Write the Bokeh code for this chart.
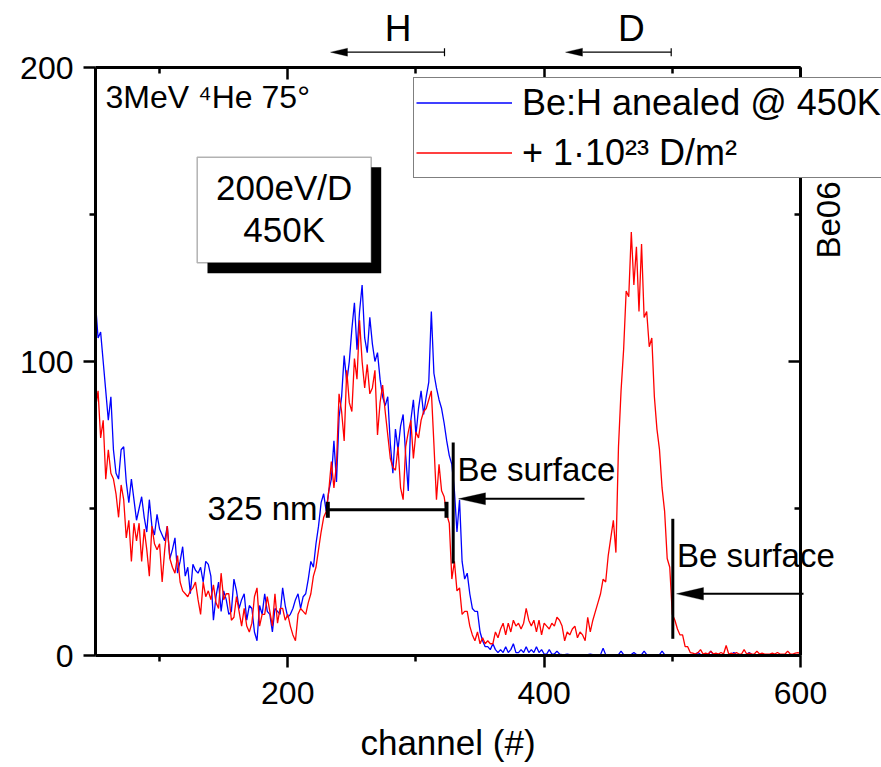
from bokeh.plotting import figure
from bokeh.models import (Range1d, LinearAxis, FixedTicker, Label, Arrow, TeeHead,
                          BoxAnnotation, PolyAnnotation, Legend, LegendItem,
                          ColumnDataSource, CustomJSTickFormatter)
from bokeh.embed import file_html
from bokeh.resources import INLINE

# ---------------- data ----------------
channel = list(range(50, 601, 2))

blue_counts = [
    120, 108, 110, 100, 90, 80, 88, 70, 62, 60,          # 50-68
    70, 71, 59, 52, 60, 53, 46, 50, 54, 47,              # 70-88
    42, 53, 44, 41, 48, 43, 41, 39, 44, 33,              # 90-108
    36, 40, 28, 32, 37, 27, 30, 21, 31, 29,              # 110-128
    28, 30, 25, 32, 31, 27, 12, 20, 25, 15,              # 130-148
    22, 19, 14, 15, 26, 22, 16, 19, 21, 12,              # 150-168
    17, 16, 8, 5, 17, 14, 21, 15, 14, 8,                 # 170-188
    16, 15, 14, 23, 17, 13, 14, 16, 19, 21,              # 190-208
    16, 20, 21, 26, 32, 30, 38, 44, 52, 55,              # 210-228
    49, 56, 60, 73, 59, 81, 88, 102, 93, 100,            # 230-248
    111, 120, 104, 117, 126, 108, 103, 115, 106, 100,    # 250-268
    103, 94, 88, 85, 88, 72, 62, 77, 70, 78,             # 270-288
    82, 68, 56, 80, 87, 75, 84, 90, 82, 88,              # 290-308
    93, 117, 96, 91, 87, 84, 79, 73, 68, 65,             # 310-328
    56, 42, 53, 32, 26, 28, 21, 16, 15, 15,              # 330-348
    8, 5, 3, 3, 2, 4, 2, 1, 2, 1,                        # 350-368
    3, 1, 2, 4, 1, 1, 2, 1, 3, 1,                        # 370-388
    2, 1, 3, 1, 2, 0.5, 0.5, 2, 0.5, 0.5,                # 390-408
    1.5, 0.5, 0.3, 0.3, 0.5, 0.3, 0.3, 0.3, 0.3, 0.3,    # 410-428
    0.3, 0.3, 0.3, 0.5, 0.3, 0.3, 0.3, 0.3, 2.5, 0.3,    # 430-448
    0.3, 0.3, 0.3, 0.3, 0.3, 1.5, 0.3, 0.3, 0.3, 0.3,    # 450-468
    1, 0.3, 0.3, 0.3, 1.5, 0.3, 0.3, 0.3, 0.3, 0.3,      # 470-488
    0.3, 1.5, 0.3, 0.3, 0.3, 0.3, 0.3, 0.3, 0.3, 0.3,    # 490-508
    0.3, 0.3, 0.3, 0.3, 0.3, 1, 0.3, 0.3, 0.3, 0.3,      # 510-528
    1.5, 0.3, 0.3, 0.3, 0.3, 0.3, 0.3, 0.3, 0.3, 1,      # 530-548
    0.3, 0.3, 0.3, 0.3, 0.3, 1, 0.3, 0.3, 0.3, 0.3,      # 550-568
    0.3, 0.3, 0.3, 0.3, 0.3, 0.3, 0.3, 0.3, 0.3, 0.3,    # 570-588
    0.3, 0.3, 0.3, 0.3, 0.3, 0.3,                        # 590-600
]

red_counts = [
    84, 90, 74, 80, 60, 70, 62, 60, 55, 47,              # 50-68
    58, 53, 40, 46, 32, 45, 39, 45, 32, 43,              # 70-88
    36, 27, 44, 38, 36, 38, 25, 36, 44, 33,              # 90-108
    30, 28, 34, 25, 22, 21, 20, 22, 23, 25,              # 110-128
    19, 14, 25, 20, 22, 19, 24, 18, 16, 28,              # 130-148
    19, 21, 21, 12, 13, 20, 15, 10, 16, 10,              # 150-168
    8, 11, 20, 23, 10, 14, 14, 20, 15, 10,               # 170-188
    21, 11, 16, 16, 12, 14, 10, 7, 5, 14,                # 190-208
    16, 15, 14, 18, 21, 27, 30, 36, 42, 47,              # 210-228
    49, 56, 66, 57, 65, 89, 83, 73, 97, 86,              # 230-248
    83, 101, 94, 114, 100, 91, 99, 89, 91, 97,           # 250-268
    75, 86, 92, 83, 75, 67, 64, 63, 71, 57,              # 270-288
    53, 71, 76, 80, 67, 76, 74, 80, 83, 84,              # 290-308
    87, 90, 72, 53, 65, 56, 54, 48, 45, 26,              # 310-328
    32, 22, 23, 14, 15, 15, 10, 7, 5, 8,                 # 330-348
    4, 6, 4, 5, 4, 4, 8, 6, 9, 11,                       # 350-368
    7, 11, 8, 12, 10, 11, 9, 11, 16, 12,                 # 370-388
    10, 12, 8, 12, 7, 11, 10, 9, 11, 10,                 # 390-408
    13, 12, 10, 5, 8, 7, 9, 10, 6, 8,                    # 410-428
    7, 5, 13, 8, 12, 15, 18, 21, 26, 25,                 # 430-448
    34, 40, 46, 35, 71, 90, 104, 124, 122, 144,          # 450-468
    126, 139, 117, 140, 115, 117, 105, 108, 88, 77,      # 470-488
    70, 57, 49, 33, 30, 14, 12, 9, 7, 7,                 # 490-508
    3, 3, 1, 0.8, 0.5, 1, 2, 0.5, 0.8, 0.5,              # 510-528
    1.5, 0.5, 0.8, 0.5, 1, 0.5, 3.4, 0.5, 0.8, 0.5,      # 530-548
    1, 0.5, 0.5, 2, 0.5, 0.8, 0.5, 0.5, 1.5, 0.5,        # 550-568
    0.8, 0.5, 0.5, 0.5, 0.8, 0.5, 1, 0.5, 0.5, 0.5,      # 570-588
    1.5, 0.5, 0.5, 0.8, 1, 0.5,                          # 590-600
]

x_major_ticks = [200, 400, 600]
x_minor_ticks = [100, 300, 500]
y_major_ticks = [0, 100, 200]
y_minor_ticks = [50, 150]
x_title = "channel (#)"
series_labels = ["Be:H anealed @ 450K", "+ 1\u00b710\u00b2\u00b3 D/m\u00b2"]

# ---------------- layout ----------------
FONT = "Liberation Sans"
W, H = 881, 767
L, R, T, B = 95, 800, 67, 655          # where the axis box lies, in pixels
X0, X1, Y0, Y1 = 50, 600, 0, 200       # axis box limits, in data units
FRAME_LEFT = 13                        # frame reaches past the box so notes outside it show


def cx(px):
    return X0 + (px - L) * (X1 - X0) / (R - L)


def cy(py):
    return Y0 + (B - py) * (Y1 - Y0) / (B - T)


p = figure(width=W, height=H, x_range=Range1d(cx(FRAME_LEFT), cx(W)),
           y_range=Range1d(cy(H), cy(0)),
           output_backend="svg", toolbar_location=None,
           min_border_left=FRAME_LEFT, min_border_right=0,
           min_border_top=0, min_border_bottom=0)
p.outline_line_color = None
p.xgrid.visible = False
p.ygrid.visible = False
p.background_fill_color = "white"
p.border_fill_color = "white"


def style_axis(ax, ticks, minor, outward, labels, bounds):
    ax.ticker = FixedTicker(ticks=ticks, minor_ticks=minor)
    ax.bounds = bounds
    ax.axis_line_width = 3
    ax.axis_line_color = "black"
    ax.major_tick_line_width = 2.5
    ax.minor_tick_line_width = 2.5
    ax.major_tick_line_color = "black"
    ax.minor_tick_line_color = "black"
    if outward:
        ax.major_tick_out, ax.major_tick_in = 12, 0
        ax.minor_tick_out, ax.minor_tick_in = 6, 0
    else:
        ax.major_tick_out, ax.major_tick_in = 0, 12
        ax.minor_tick_out, ax.minor_tick_in = 0, 6
    ax.major_label_text_font = FONT
    ax.major_label_text_font_size = "32px"
    ax.major_label_text_color = "black"
    ax.major_label_standoff = 10
    if not labels:
        ax.formatter = CustomJSTickFormatter(code="return ''")


xb = p.xaxis[0]
yl = p.yaxis[0]
style_axis(xb, x_major_ticks, x_minor_ticks, True, True, (X0, X1))
style_axis(yl, y_major_ticks, y_minor_ticks, True, True, (Y0, Y1))
yl.fixed_location = X0
xb.fixed_location = Y0
xb.major_label_standoff = 14
xb.axis_label = x_title
xb.axis_label_text_font = FONT
xb.axis_label_text_font_size = "35px"
xb.axis_label_text_font_style = "normal"
xb.axis_label_text_color = "black"
xb.axis_label_standoff = 16

xt = LinearAxis(fixed_location=Y1)
style_axis(xt, x_major_ticks, x_minor_ticks, False, False, (X0, X1))
p.add_layout(xt, "above")
yr = LinearAxis(fixed_location=X1)
style_axis(yr, y_major_ticks, y_minor_ticks, False, False, (Y0, Y1))
p.add_layout(yr, "right")

# ---------------- curves ----------------
src = ColumnDataSource(dict(channel=channel, blue=blue_counts, red=red_counts))
rb = p.line("channel", "blue", source=src, line_color="#0000ff", line_width=1.3)
rr = p.line("channel", "red", source=src, line_color="#ff0000", line_width=1.3)

# ---------------- legend ----------------
leg_h = 2 * 2 + 2 * 45 + 5
legend = Legend(items=[LegendItem(label=series_labels[0], renderers=[rb]),
                       LegendItem(label=series_labels[1], renderers=[rr])],
                location=(413 - FRAME_LEFT, (H - 79) - leg_h),
                label_text_font=FONT, label_text_font_size="36px",
                label_text_color="black",
                glyph_width=96, glyph_height=45, label_height=45,
                label_standoff=10, spacing=5, padding=2, margin=0,
                border_line_color="black", border_line_width=1.5,
                background_fill_color="white", background_fill_alpha=1.0)
p.add_layout(legend)

BASE_SHIFT = 0.37   # Label's alphabetic anchor sits this many font sizes above the drawn baseline


def label(text, px, py, size, align="left", angle=0.0):
    if angle:
        px = px - BASE_SHIFT * size
    else:
        py = py - BASE_SHIFT * size
    p.add_layout(Label(x=cx(px), y=cy(py), text=text, text_font=FONT,
                       text_font_size=f"{size}px", text_color="black",
                       text_align=align, text_baseline="alphabetic", angle=angle))


def line(px0, py0, px1, py1, width, start=None, end=None):
    p.add_layout(Arrow(x_start=cx(px0), y_start=cy(py0), x_end=cx(px1), y_end=cy(py1),
                       line_width=width, line_color="black", start=start, end=end))


def head_left(tip_px, py, length, half):
    p.add_layout(PolyAnnotation(xs=[cx(tip_px), cx(tip_px + length), cx(tip_px + length)],
                                ys=[cy(py), cy(py - half), cy(py + half)],
                                fill_color="black", fill_alpha=1.0,
                                line_color="black", line_width=1))


# text top-left
label("3MeV \u2074He 75\u00b0", 105, 108, 32)

# boxed note with shadow
p.add_layout(BoxAnnotation(left=cx(207), right=cx(380.7), top=cy(166.7), bottom=cy(272.7),
                           fill_color="black", fill_alpha=1.0, line_color=None))
p.add_layout(BoxAnnotation(left=cx(196.7), right=cx(370.7), top=cy(156.7), bottom=cy(262.3),
                           fill_color="white", fill_alpha=1.0, line_color="black",
                           line_width=1.5))
label("200eV/D", 283.7, 200, 35, align="center")
label("450K", 283.7, 241.7, 35, align="center")

# H / D markers above the box
label("H", 397.5, 41.7, 37, align="center")
label("D", 630.8, 41.7, 37, align="center")
line(444, 51.7, 346, 51.7, 1.2, start=TeeHead(size=8, line_width=1.2, line_color="black"))
head_left(330, 51.7, 17, 4)
line(670.7, 51.7, 582, 51.7, 1.2, start=TeeHead(size=8, line_width=1.2, line_color="black"))
head_left(565, 51.7, 17, 4)

# side label
label("Be06", 840, 219.5, 33, align="center", angle=1.5707963)

# 325 nm bar
label("325 nm", 317, 520, 33, align="right")
line(327.3, 509.3, 446, 509.3, 3,
     start=TeeHead(size=16, line_width=4, line_color="black"),
     end=TeeHead(size=16, line_width=4, line_color="black"))

# Be surface (H)
line(452.7, 442, 452.7, 563, 3)
label("Be surface", 457, 481.7, 33)
line(584, 498.3, 484, 498.3, 2)
head_left(458, 498.3, 27, 6)

# Be surface (D)
line(672.3, 518.3, 672.3, 638.3, 3)
label("Be surface", 676.5, 567, 33)
line(803, 593.3, 702, 593.3, 2)
head_left(676, 593.3, 27, 6.3)

open("out.html", "w").write(file_html(p, INLINE))
